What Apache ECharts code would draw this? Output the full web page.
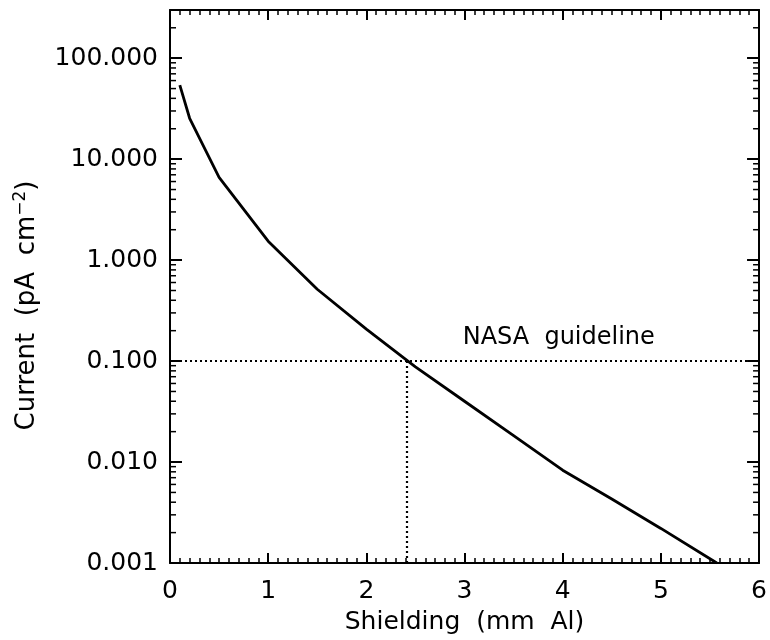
<!DOCTYPE html>
<html>
<head>
    <meta charset="utf-8"/>
    <title>Shielding</title>
    <script src="https://cdn.jsdelivr.net/npm/echarts@6.0.0/dist/echarts.min.js"></script>
</head>
<body style="margin:0;background:#fff;">
<div id="chart" style="width: 770px;height:640px;"></div>
<script type="text/javascript">
    // shielding thickness (mm Al) vs current (pA cm^-2)
    var shielding = [0.1, 0.2, 0.5, 1.0, 1.5, 2.0, 2.5, 3.0, 3.5, 4.0, 4.5, 5.0, 5.57];
    var current = [54, 25.4, 6.6, 1.54, 0.514, 0.207, 0.0875, 0.040, 0.0183, 0.0083, 0.0043, 0.0022, 0.001];

    var guideline = 0.1;     // NASA guideline current
    var guideX = 2.41;       // thickness where the curve crosses it

    var yMin = 0.001, yMax = 300;
    var xMin = 0, xMax = 6;

    // log minor ticks (2..9 in each decade)
    var minorY = [];
    for (var d = -3; d <= 2; d++) {
        for (var m = 2; m <= 9; m++) {
            var v = m * Math.pow(10, d);
            if (v <= yMax) minorY.push([xMin, v]);
        }
    }

    var font = 'DejaVu Sans';
    var black = '#000';

    var xBase = {
        type: 'value', min: xMin, max: xMax, interval: 1,
        axisLine: { onZero: false, lineStyle: { color: black, width: 2 } },
        axisTick: { inside: true, length: 10, lineStyle: { color: black, width: 2 } },
        minorTick: { show: true, splitNumber: 10, length: 5, lineStyle: { color: black, width: 1.5 } },
        splitLine: { show: false },
        minorSplitLine: { show: false }
    };

    var yBase = {
        type: 'log', logBase: 10, min: yMin, max: yMax,
        axisLine: { onZero: false, lineStyle: { color: black, width: 2 } },
        axisTick: { inside: true, length: 12, lineStyle: { color: black, width: 2 } },
        splitLine: { show: false }
    };

    function isDecade(v) {
        var l = Math.log10(v);
        return Math.abs(l - Math.round(l)) < 1e-6;
    }

    var option = {
        animation: false,
        backgroundColor: '#fff',
        grid: { left: 170, top: 10, right: 6, bottom: 77 },
        xAxis: [
            Object.assign({}, xBase, {
                position: 'bottom',
                name: 'Shielding  (mm  Al)', nameLocation: 'middle', nameGap: 47,
                nameTextStyle: { fontFamily: font, fontSize: 25, color: black },
                axisLabel: { fontFamily: font, fontSize: 25, color: black, margin: 16 }
            }),
            Object.assign({}, xBase, { position: 'top', axisLabel: { show: false } })
        ],
        yAxis: [
            Object.assign({}, yBase, {
                position: 'left',
                name: 'Current  (pA  cm{sup|\u22122})', nameLocation: 'middle', nameGap: 127,
                nameTextStyle: {
                    fontFamily: font, fontSize: 26, color: black,
                    padding: [0, 38, 0, 0],
                    rich: { sup: { fontFamily: font, fontSize: 17, color: black, verticalAlign: 'top', padding: [0, 0, 14, 0] } }
                },
                axisLabel: {
                    fontFamily: font, fontSize: 25, color: black, margin: 12,
                    formatter: function (v) { return isDecade(v) ? v.toFixed(3) : ''; }
                }
            }),
            Object.assign({}, yBase, { position: 'right', axisLabel: { show: false } })
        ],
        series: [
            {
                type: 'line',
                data: shielding.map(function (x, i) { return [x, current[i]]; }),
                showSymbol: false,
                lineStyle: { color: black, width: 2.8 },
                markLine: {
                    silent: true, symbol: 'none',
                    label: { show: false },
                    lineStyle: { color: black, width: 2.2, type: [2, 3] },
                    data: [
                        [{ coord: [xMin, guideline] }, { coord: [xMax, guideline] }],
                        [{ coord: [guideX, yMin] }, { coord: [guideX, guideline] }]
                    ]
                },
                markPoint: {
                    symbol: 'circle',
                    symbolSize: 2,
                    itemStyle: { color: 'rgba(0,0,0,0)' },
                    label: {
                        show: true, position: 'inside', formatter: 'NASA  guideline',
                        fontFamily: font, fontSize: 24, color: black
                    },
                    data: [{ name: 'guideline', coord: [3.96, 0.17] }]
                }
            },
            {
                // minor log ticks on left and right edges
                type: 'custom',
                clip: false,
                silent: true,
                data: minorY,
                renderItem: function (params, api) {
                    var v = api.value(1);
                    var l = api.coord([xMin, v]);
                    var r = api.coord([xMax, v]);
                    var st = { stroke: black, lineWidth: 1.5 };
                    return {
                        type: 'group',
                        children: [
                            { type: 'line', shape: { x1: l[0], y1: l[1], x2: l[0] + 6, y2: l[1] }, style: st },
                            { type: 'line', shape: { x1: r[0], y1: r[1], x2: r[0] - 6, y2: r[1] }, style: st }
                        ]
                    };
                }
            }
        ]
    };

    var chart = echarts.init(document.getElementById('chart'));
    chart.setOption(option);
</script>
</body>
</html>
